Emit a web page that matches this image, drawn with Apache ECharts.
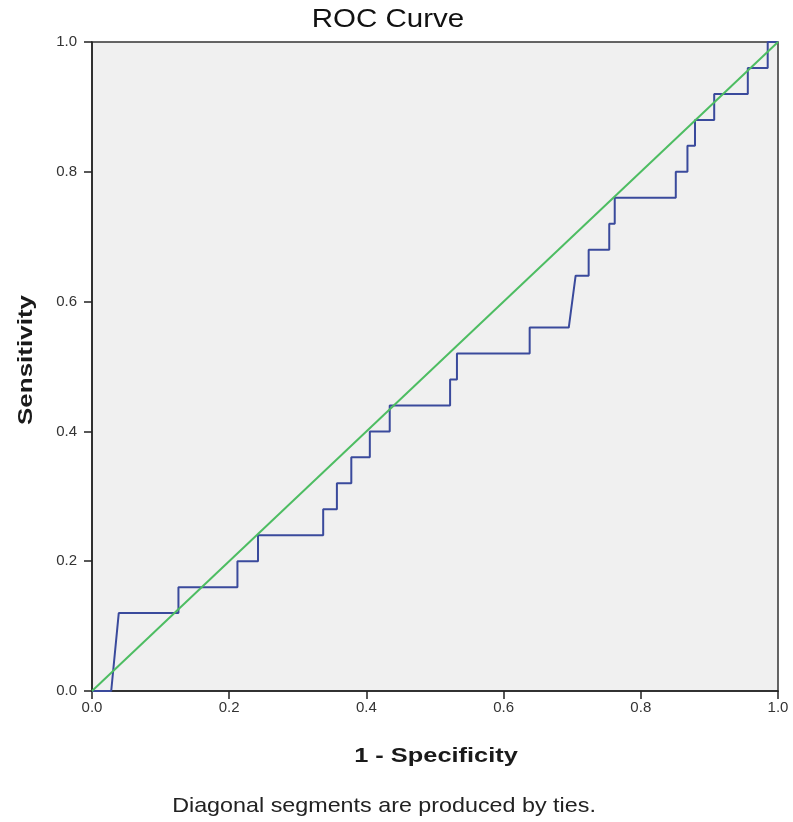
<!DOCTYPE html>
<html>
<head>
<meta charset="utf-8">
<script src="https://cdn.jsdelivr.net/npm/echarts@6/dist/echarts.min.js"></script>
<style>
html,body{margin:0;padding:0;background:#fff;}
#c{width:793px;height:822px;}
</style>
</head>
<body>
<div id="c"></div>
<script>
// ROC curve points (1 - Specificity, Sensitivity)
const fpr = [0, 0.028, 0.039, 0.126, 0.126, 0.212, 0.212, 0.242, 0.242, 0.337, 0.337, 0.357, 0.357, 0.378, 0.378, 0.405, 0.405, 0.434, 0.434, 0.522, 0.522, 0.532, 0.532, 0.638, 0.638, 0.695, 0.705, 0.724, 0.724, 0.754, 0.754, 0.762, 0.762, 0.851, 0.851, 0.868, 0.868, 0.879, 0.879, 0.907, 0.907, 0.956, 0.956, 0.985, 0.985, 1.0];
const tpr = [0, 0, 0.12, 0.12, 0.16, 0.16, 0.20, 0.20, 0.24, 0.24, 0.28, 0.28, 0.32, 0.32, 0.36, 0.36, 0.40, 0.40, 0.44, 0.44, 0.48, 0.48, 0.52, 0.52, 0.56, 0.56, 0.64, 0.64, 0.68, 0.68, 0.72, 0.72, 0.76, 0.76, 0.80, 0.80, 0.84, 0.84, 0.88, 0.88, 0.92, 0.92, 0.96, 0.96, 1.0, 1.0];
// Reference (chance) line
const refX = [0, 1];
const refY = [0, 1];
// Texts
const titleText = 'ROC Curve';
const xName = '1 - Specificity';
const yName = 'Sensitivity';
const footnote = 'Diagonal segments are produced by ties.';

const FONT = "'Liberation Sans', Arial, sans-serif";
const chart = echarts.init(document.getElementById('c'), null, {renderer: 'canvas'});
const axisCommon = {
  type: 'value', min: 0, max: 1, interval: 0.2,
  axisLine: {show: true, lineStyle: {color: '#222', width: 1.5}},
  axisTick: {show: true, inside: false, length: 8, lineStyle: {color: '#222', width: 1.5}},
  axisLabel: {color: '#333', fontSize: 15, fontFamily: FONT, formatter: v => v.toFixed(1)},
  splitLine: {show: false}
};
chart.setOption({
  animation: false,
  backgroundColor: '#fff',
  grid: {left: 92, right: 15, top: 42, bottom: 131, show: true, outerBoundsMode: 'none', containLabel: false,
         backgroundColor: '#f0f0f0', borderColor: '#333', borderWidth: 1.5},
  xAxis: Object.assign({}, axisCommon, {axisLabel: Object.assign({}, axisCommon.axisLabel, {margin: 9})}),
  yAxis: Object.assign({}, axisCommon, {axisLabel: Object.assign({}, axisCommon.axisLabel, {margin: 15})}),
  graphic: [
    {type: 'text', x: 388, y: 20, scaleX: 1.18, z: 10,
     style: {text: titleText, font: '25px ' + FONT, fill: '#111', align: 'center', verticalAlign: 'middle'}},
    {type: 'text', x: 436, y: 756, scaleX: 1.27, z: 10,
     style: {text: xName, font: 'bold 20px ' + FONT, fill: '#1a1a1a', align: 'center', verticalAlign: 'middle'}},
    {type: 'text', x: 26, y: 360, rotation: Math.PI / 2, scaleX: 1.3, z: 10,
     style: {text: yName, font: 'bold 20px ' + FONT, fill: '#1a1a1a', align: 'center', verticalAlign: 'middle'}},
    {type: 'text', x: 384, y: 806, scaleX: 1.11, z: 10,
     style: {text: footnote, font: '21px ' + FONT, fill: '#222', align: 'center', verticalAlign: 'middle'}}
  ],
  series: [
    {type: 'line', data: fpr.map((x, i) => [x, tpr[i]]), showSymbol: false, symbol: 'none',
     lineStyle: {color: '#3a4a9c', width: 2}, z: 2},
    {type: 'line', data: refX.map((x, i) => [x, refY[i]]), showSymbol: false, symbol: 'none',
     lineStyle: {color: '#4dbd62', width: 2}, z: 3}
  ]
});
</script>
</body>
</html>
